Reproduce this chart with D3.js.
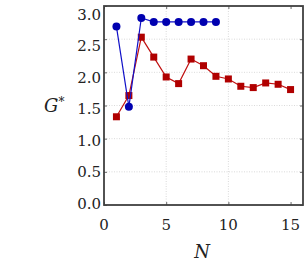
<!DOCTYPE html>
<html>
<head>
<meta charset="utf-8">
<script src="https://cdn.jsdelivr.net/npm/d3@7"></script>
<style>
  body { margin: 0; background: #fff; }
  text { font-family: "DejaVu Serif", serif; }
</style>
</head>
<body>
<svg id="chart" width="306" height="273"></svg>
<script>
// data
var blueN = [1, 2, 3, 4, 5, 6, 7, 8, 9];
var blueG = [2.69, 1.48, 2.82, 2.76, 2.76, 2.76, 2.76, 2.76, 2.76];
var redN = [1, 2, 3, 4, 5, 6, 7, 8, 9, 10, 11, 12, 13, 14, 15];
var redG = [1.33, 1.65, 2.53, 2.23, 1.93, 1.83, 2.20, 2.10, 1.94, 1.90, 1.79, 1.77, 1.84, 1.82, 1.74];
var xTicks = [0, 5, 10, 15];
var yTicks = [0.0, 0.5, 1.0, 1.5, 2.0, 2.5, 3.0];

var svg = d3.select("#chart");
var pLeft = 104, pRight = 303, pTop = 6, pBottom = 205;

var x = d3.scaleLinear().domain([0, 16]).range([pLeft, pRight]);
var y = d3.scaleLinear().domain([0, 3]).range([pBottom, pTop]);
// label baselines sit a little inside the frame at the ends
var yLab = d3.scaleLinear().domain([0, 3]).range([pBottom + 3.5, pTop + 13.5]);

// grid
svg.append("g").selectAll("line")
  .data(yTicks.filter(function(d) { return d > 0 && d < 3; }))
  .enter().append("line")
  .attr("x1", pLeft).attr("x2", pRight)
  .attr("y1", function(d) { return y(d); })
  .attr("y2", function(d) { return y(d); })
  .style("stroke", "#d0d0d0")
  .style("stroke-width", 0.8)
  .style("stroke-dasharray", "1,1.5");

svg.append("g").selectAll("line")
  .data([5, 10])
  .enter().append("line")
  .attr("y1", pTop).attr("y2", pBottom)
  .attr("x1", function(d) { return x(d); })
  .attr("x2", function(d) { return x(d); })
  .style("stroke", "#d0d0d0")
  .style("stroke-width", 0.8)
  .style("stroke-dasharray", "1,1.5");

// axes (inward ticks, labels drawn separately)
var fmt = d3.format(".1f");
svg.append("g").attr("transform", "translate(0," + pBottom + ")")
  .call(d3.axisTop(x).tickValues(xTicks).tickSize(3).tickFormat(""));
svg.append("g").attr("transform", "translate(0," + pTop + ")")
  .call(d3.axisBottom(x).tickValues(xTicks).tickSize(3).tickFormat(""));
svg.append("g").attr("transform", "translate(" + pLeft + ",0)")
  .call(d3.axisRight(y).tickValues(yTicks).tickSize(3).tickFormat(""));
svg.append("g").attr("transform", "translate(" + pRight + ",0)")
  .call(d3.axisLeft(y).tickValues(yTicks).tickSize(3).tickFormat(""));
svg.selectAll(".domain").remove();
svg.selectAll(".tick line").style("stroke", "#444").style("stroke-width", 0.8);

svg.append("rect")
  .attr("x", pLeft).attr("y", pTop)
  .attr("width", pRight - pLeft).attr("height", pBottom - pTop)
  .style("fill", "none")
  .style("stroke", "#404040")
  .style("stroke-width", 1.8);

// tick labels
svg.append("g").selectAll("text")
  .data(yTicks).enter().append("text")
  .attr("x", pLeft - 3)
  .attr("y", function(d) { return yLab(d); })
  .attr("text-anchor", "end")
  .style("font-size", "15px")
  .style("fill", "#222")
  .text(function(d) { return fmt(d); });

svg.append("g").selectAll("text")
  .data(xTicks).enter().append("text")
  .attr("x", function(d) { return x(d); })
  .attr("y", 230)
  .attr("text-anchor", "middle")
  .style("font-size", "15px")
  .style("fill", "#222")
  .text(function(d) { return d; });

// axis labels
var gl = svg.append("text")
  .attr("x", 44).attr("y", 112)
  .style("font-size", "18px")
  .style("font-style", "italic")
  .style("fill", "#222");
gl.append("tspan").text("G");
gl.append("tspan").attr("dy", -6).style("font-size", "12px").style("font-style", "normal").text("*");

svg.append("text")
  .attr("x", 202).attr("y", 258)
  .attr("text-anchor", "middle")
  .style("font-size", "18px")
  .style("font-style", "italic")
  .style("fill", "#222")
  .text("N");

// series
var line = d3.line()
  .x(function(d) { return x(d[0]); })
  .y(function(d) { return y(d[1]); });

var redData = d3.zip(redN, redG);
var blueData = d3.zip(blueN, blueG);

svg.append("path").datum(redData)
  .attr("d", line)
  .style("fill", "none")
  .style("stroke", "#c01010")
  .style("stroke-width", 1.2);
svg.append("g").selectAll("rect")
  .data(redData).enter().append("rect")
  .attr("x", function(d) { return x(d[0]) - 3.5; })
  .attr("y", function(d) { return y(d[1]) - 3.5; })
  .attr("width", 7).attr("height", 7)
  .style("fill", "#b00000");

svg.append("path").datum(blueData)
  .attr("d", line)
  .style("fill", "none")
  .style("stroke", "#1010c8")
  .style("stroke-width", 1.2);
svg.append("g").selectAll("circle")
  .data(blueData).enter().append("circle")
  .attr("cx", function(d) { return x(d[0]); })
  .attr("cy", function(d) { return y(d[1]); })
  .attr("r", 4)
  .style("fill", "#0000b0");
</script>
</body>
</html>
